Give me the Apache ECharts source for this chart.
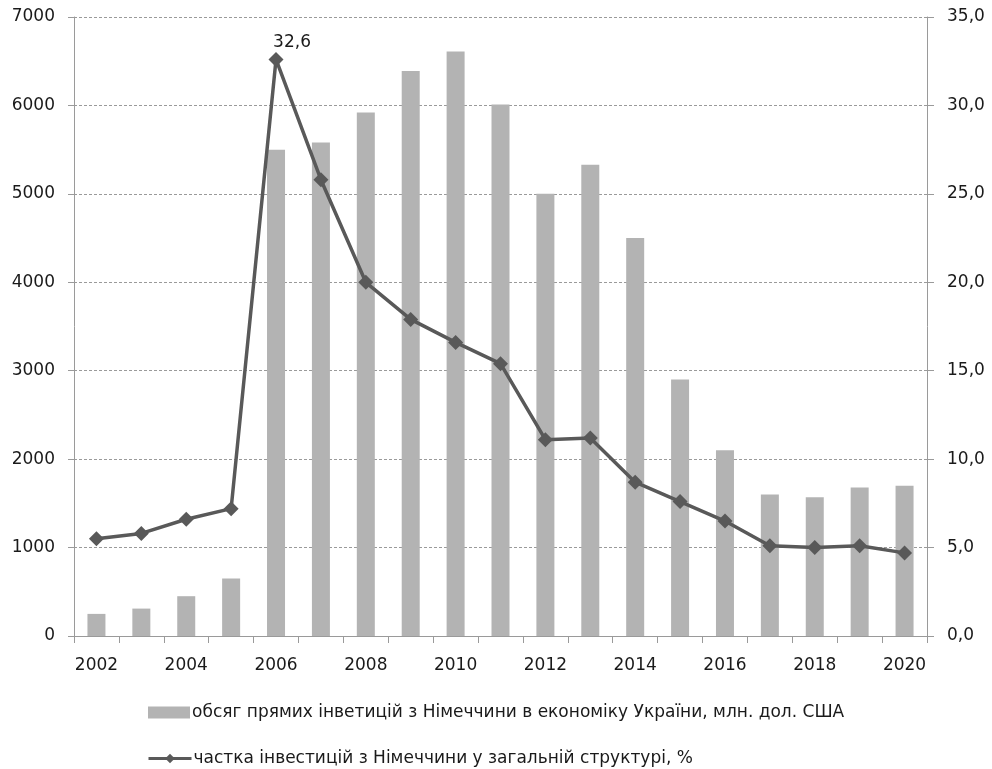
<!DOCTYPE html>
<html>
<head>
<meta charset="utf-8">
<script src="https://cdn.jsdelivr.net/npm/echarts@6/dist/echarts.min.js"></script>
<style>
html,body{margin:0;padding:0;background:#fff;}
#chart{width:992px;height:769px;}
</style>
</head>
<body>
<div id="chart"></div>
<script>
var years = ['2002','2003','2004','2005','2006','2007','2008','2009','2010','2011','2012','2013','2014','2015','2016','2017','2018','2019','2020'];
var investVolume = [250, 310, 450, 650, 5500, 5580, 5920, 6390, 6610, 6010, 5000, 5330, 4500, 2900, 2100, 1600, 1570, 1680, 1700];
var germanShare = [5.5, 5.8, 6.6, 7.2, 32.6, 25.8, 20.0, 17.9, 16.6, 15.4, 11.1, 11.2, 8.7, 7.6, 6.5, 5.1, 5.0, 5.1, 4.7];
var barName = 'обсяг прямих інветицій з Німеччини в економіку України, млн. дол. США';
var lineName = 'частка інвестицій з Німеччини у загальній структурі, %';
var leftTicks = {min: 0, max: 7000, interval: 1000};
var rightTicks = {min: 0, max: 35, interval: 5};

var FONT = 'DejaVu Sans';
var FS = 17;
var chart = echarts.init(document.getElementById('chart'), null, {renderer: 'canvas'});
var axisGray = '#9a9a9a';
chart.setOption({
  animation: false,
  backgroundColor: '#ffffff',
  textStyle: {fontFamily: FONT, color: '#1a1a1a'},
  grid: {left: 74, right: 65, top: 17, bottom: 133, containLabel: false},
  legend: [
    {data: [{name: barName, icon: 'rect'}], left: 148, top: 704, padding: 0, orient: 'horizontal', itemWidth: 42, itemHeight: 12,
     textStyle: {fontFamily: FONT, fontSize: FS, color: '#1a1a1a', padding: [0,0,0,-3]}},
    {data: [lineName], left: 147, top: 750, padding: 0, orient: 'horizontal', itemWidth: 43, itemHeight: 12,
     lineStyle: {width: 3},
     textStyle: {fontFamily: FONT, fontSize: FS, color: '#1a1a1a', padding: [0,0,0,-3]}}
  ],
  xAxis: {
    type: 'category', data: years, boundaryGap: true,
    axisLine: {lineStyle: {color: axisGray, width: 1}},
    axisTick: {show: true, interval: 0, length: 7, lineStyle: {color: axisGray}},
    axisLabel: {interval: 1, fontFamily: FONT, fontSize: FS, color: '#1a1a1a', margin: 21}
  },
  yAxis: [
    {type: 'value', min: leftTicks.min, max: leftTicks.max, interval: leftTicks.interval, position: 'left',
     axisLine: {show: true, lineStyle: {color: axisGray}},
     axisTick: {show: true, length: 6, lineStyle: {color: axisGray}},
     axisLabel: {fontFamily: FONT, fontSize: FS, color: '#1a1a1a', margin: 19,
       formatter: function(v){ return String(v); }},
     splitLine: {show: true, lineStyle: {color: '#9a9a9a', type: [3, 2], width: 1}}},
    {type: 'value', min: rightTicks.min, max: rightTicks.max, interval: rightTicks.interval, position: 'right',
     axisLine: {show: true, lineStyle: {color: axisGray}},
     axisTick: {show: true, length: 7, lineStyle: {color: axisGray}},
     axisLabel: {fontFamily: FONT, fontSize: FS, color: '#1a1a1a', margin: 20,
       formatter: function(v){ return v.toFixed(1).replace('.', ','); }},
     splitLine: {show: false}}
  ],
  series: [
    {name: barName, type: 'bar', yAxisIndex: 0, data: investVolume, barWidth: 18,
     itemStyle: {color: '#b3b3b3'}},
    {name: lineName, type: 'line', yAxisIndex: 1, data: germanShare.map(function(v, i){
        if (i === 4) return {value: v, label: {show: true, position: 'top', offset: [16, 4],
          formatter: function(p){ return p.value.toFixed(1).replace('.', ','); },
          fontFamily: FONT, fontSize: FS, color: '#1a1a1a'}};
        return v;
      }),
     symbol: 'diamond', symbolSize: 15, showAllSymbol: true,
     lineStyle: {color: '#595959', width: 3.5},
     itemStyle: {color: '#595959'}}
  ]
});
</script>
</body>
</html>
